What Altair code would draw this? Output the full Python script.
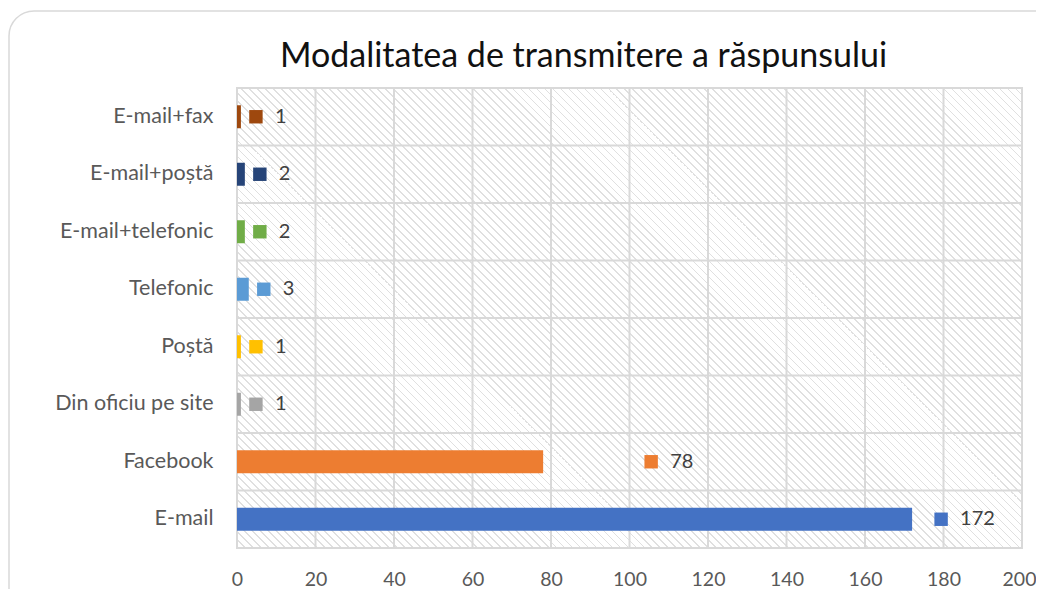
import altair as alt
import pandas as pd

categories = ["E-mail+fax", "E-mail+poștă", "E-mail+telefonic", "Telefonic",
              "Poștă", "Din oficiu pe site", "Facebook", "E-mail"]
values = [1, 2, 2, 3, 1, 1, 78, 172]
colors = ["#9E480E", "#264478", "#70AD47", "#5B9BD5",
          "#FFC000", "#A5A5A5", "#ED7D31", "#4472C4"]
x_ticks = [0, 20, 40, 60, 80, 100, 120, 140, 160, 180, 200]
title_text = "Modalitatea de transmitere a răspunsului"

df = pd.DataFrame({"cat": categories, "val": values})
ticks_df = pd.DataFrame({"val": x_ticks})

W, H = 785, 460
FONT = "Lato"
GRID = "#d9d9d9"

# diagonal hatch pattern as a striped linear gradient (style only)
b = H / W
k = (1 + b) / (1 + b * b)
N = round((W + H) / 8)
stripe = "#e0e0e0"
stops = []
for i in range(N):
    o0 = i / N
    o1 = (i + 0.22) / N
    o2 = (i + 1) / N
    stops += [alt.GradientStop(offset=o0, color=stripe),
              alt.GradientStop(offset=o1, color=stripe),
              alt.GradientStop(offset=o1, color="#ffffff"),
              alt.GradientStop(offset=o2, color="#ffffff")]
hatch = alt.LinearGradient(gradient="linear", stops=stops,
                           x1=0, y1=1, x2=k, y2=1 - k * b)

xscale = alt.Scale(domain=[0, 200], nice=False)
yscale = alt.Scale(domain=categories, paddingInner=0, paddingOuter=0)

xaxis = alt.Axis(title=None, values=x_ticks, ticks=False, domain=False, grid=False,
                 labelPadding=22, labelFontSize=19.5, labelColor="#595959",
                 labelFont=FONT, labelFlush=False,
                 labelAlign=alt.ExprRef(expr="datum.value == 200 ? 'right' : 'center'"),
                 labelOffset=alt.ExprRef(expr="datum.value == 200 ? 14 : 0"))
yaxis = alt.Axis(title=None, ticks=False, domain=False, grid=False,
                 labelPadding=24, labelFontSize=21.5, labelColor="#595959",
                 labelFont=FONT)


def X(field="val"):
    return alt.X(f"{field}:Q", scale=xscale, axis=xaxis)


def Y(**kw):
    return alt.Y("cat:N", sort=categories, scale=yscale, axis=yaxis, **kw)


one = alt.Data(values=[{}])

frame = alt.Chart(one).mark_rect(
    fillOpacity=0, stroke=GRID, strokeWidth=1.5, cornerRadius=25
).encode(x=alt.value(-228), x2=alt.value(W + 200),
         y=alt.value(-77), y2=alt.value(H + 200))

bg = alt.Chart(one).mark_rect(fill=hatch, strokeWidth=0).encode(
    x=alt.value(0), x2=alt.value(W), y=alt.value(0), y2=alt.value(H))

vgrid = alt.Chart(ticks_df).mark_rule(color=GRID, strokeWidth=2).encode(
    x=X(), y=alt.value(0), y2=alt.value(H))

hgrid = alt.Chart(df).mark_rule(color=GRID, strokeWidth=2).encode(
    y=Y(bandPosition=0), x=alt.value(0), x2=alt.value(W))

border = alt.Chart(one).mark_rect(fillOpacity=0, stroke=GRID, strokeWidth=2).encode(
    x=alt.value(0), x2=alt.value(W), y=alt.value(0), y2=alt.value(H))

color = alt.Color("cat:N", scale=alt.Scale(domain=categories, range=colors), legend=None)
base = alt.Chart(df)

bars = base.mark_bar(size=23).encode(x=X(), y=Y(), color=color)


def labels(cats, sq_off, txt_off):
    sub = base.transform_filter(alt.FieldOneOfPredicate(field="cat", oneOf=cats))
    sq = sub.mark_square(size=180, filled=True, opacity=1, xOffset=sq_off).encode(
        x=X(), y=Y(), color=color)
    tx = sub.mark_text(align="left", baseline="middle", dx=txt_off, fontSize=20,
                       font=FONT, color="#404040").encode(x=X(), y=Y(), text="val:Q")
    return [sq, tx]


small = ["E-mail+fax", "E-mail+poștă", "E-mail+telefonic", "Telefonic",
         "Poștă", "Din oficiu pe site"]
lab = labels(small, 15, 34) + labels(["Facebook"], 108, 127) + labels(["E-mail"], 29, 48)

chart = alt.layer(frame, bg, vgrid, hgrid, border, bars, *lab).properties(
    width=W, height=H,
    title=alt.TitleParams(title_text, font=FONT, fontSize=34, fontWeight="normal",
                          color="#111111", anchor="middle", frame="group",
                          dx=-46, offset=-91, baseline="alphabetic"),
    autosize=alt.AutoSizeParams(type="none"),
    padding={"left": 229, "top": 80, "right": 14, "bottom": 45},
).configure(background="#ffffff").configure_view(stroke=None)

chart.save("out.html", embed_options={"renderer": "svg", "actions": False})
